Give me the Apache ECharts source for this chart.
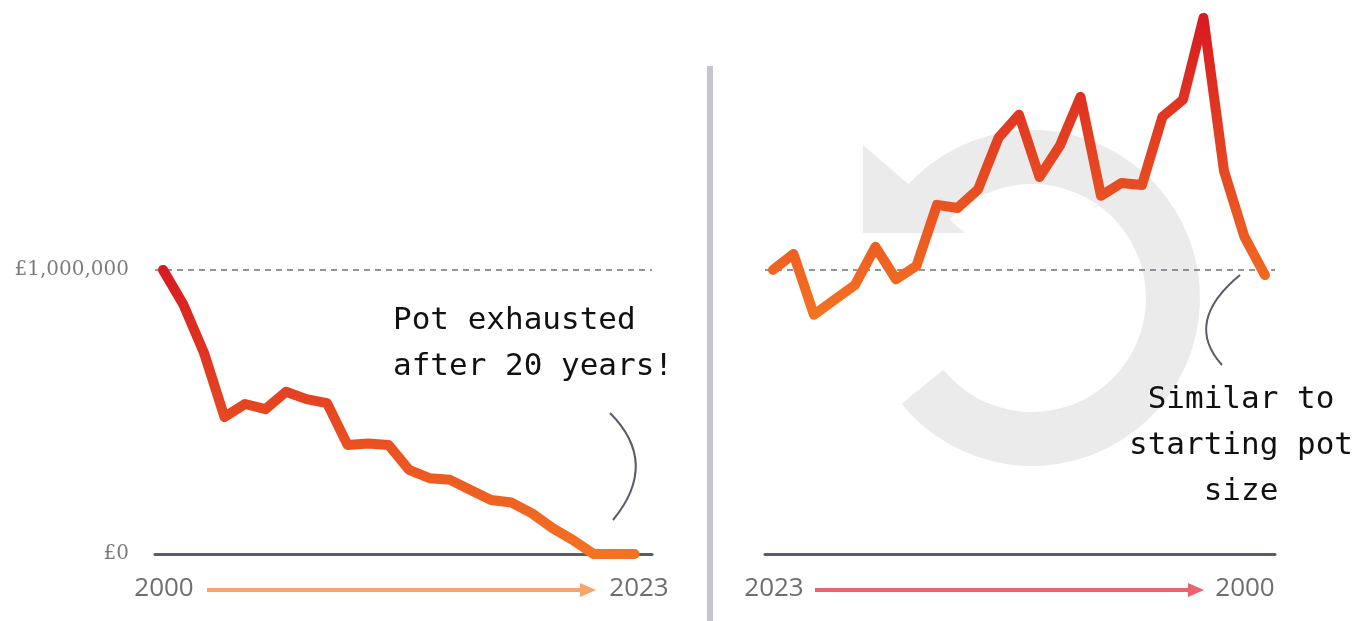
<!DOCTYPE html>
<html>
<head>
<meta charset="utf-8">
<script src="https://cdn.jsdelivr.net/npm/echarts@6/dist/echarts.min.js"></script>
<style>
html,body{margin:0;padding:0;background:#fff;}
#chart{width:1359px;height:621px;}
</style>
</head>
<body>
<div id="chart"></div>
<script>
// ---- data ----
const leftValues = [1000000, 877000, 708000, 482000, 528000, 510000, 571000, 545000, 531000,
  384000, 389000, 384000, 296000, 267000, 261000, 225000, 190000, 181000, 143000, 91000,
  49000, 0, 0, 0];
const rightValues = [1000000, 1056000, 842000, 895000, 947000, 1081000, 967000, 1014000,
  1229000, 1218000, 1283000, 1465000, 1546000, 1327000, 1438000, 1609000, 1261000,
  1306000, 1299000, 1539000, 1599000, 1887000, 1349000, 1116000, 982000];
const yTicks = [0, 1000000];
const yTickLabels = ['£0', '£1,000,000'];
const refLevel = 1000000;
const leftYearLabels = ['2000', '2023'];
const rightYearLabels = ['2023', '2000'];
const leftNote = ['Pot exhausted', 'after 20 years!'];
const rightNote = ['Similar to', 'starting pot', 'size'];

// ---- chart ----
const chart = echarts.init(document.getElementById('chart'), null, {renderer: 'canvas'});
const lineGrad = () => ({
  type: 'linear', x: 0, y: 0, x2: 0, y2: 1,
  colorStops: [{offset: 0, color: '#d71a21'}, {offset: 1, color: '#f47421'}]
});
const yAx = (gi, showLabels) => ({
  gridIndex: gi, type: 'value', min: 0, max: 1950000, interval: 1000000,
  axisLine: {show: false}, axisTick: {show: false},
  splitLine: {show: false},
  axisLabel: {
    show: showLabels, margin: 26, fontFamily: 'DejaVu Serif', fontSize: 20, color: '#7d7d7d',
    formatter: v => { const k = yTicks.indexOf(v); return k >= 0 ? yTickLabels[k] : ''; }
  }
});
const xAx = (gi, min, max) => ({
  gridIndex: gi, type: 'value', min: min, max: max,
  axisLine: {show: true, onZero: true, lineStyle: {color: '#5b5b6b', width: 3}},
  axisTick: {show: false}, axisLabel: {show: false}, splitLine: {show: false}
});
const lineSeries = (gi, vals) => ({
  type: 'line', xAxisIndex: gi, yAxisIndex: gi, z: 5, clip: false,
  data: vals.map((v, i) => [i, v]), symbol: 'none', silent: true,
  lineStyle: {width: 10, cap: 'round', join: 'round', color: lineGrad()},
  markLine: {
    silent: true, symbol: ['none', 'none'], z: 1, label: {show: false},
    lineStyle: {type: [6, 5], color: '#70707e', width: 1.5},
    data: [{yAxis: refLevel}]
  }
});

const yearFont = {fontFamily: 'Open Sans', fontSize: 26, fill: '#6e6e6e', align: 'center', verticalAlign: 'middle'};
const noteFont = {fontFamily: 'DejaVu Sans Mono', fontSize: 31, fill: '#111', verticalAlign: 'middle', lineHeight: 46};
const deg = d => d * Math.PI / 180;

const graphics = [
  // background loop arrow (decoration)
  {type: 'sector', z: -10, silent: true,
   shape: {cx: 1032, cy: 298, r0: 114, r: 168, startAngle: deg(221), endAngle: deg(501), clockwise: true},
   style: {fill: '#ebebeb'}},
  {type: 'polygon', z: -10, silent: true,
   shape: {points: [[863, 145], [863, 233], [965, 233]]}, style: {fill: '#ebebeb'}},
  // divider
  {type: 'rect', z: 50, shape: {x: 707, y: 66, width: 6, height: 560}, style: {fill: '#c5c5d1'}},
  // bottom direction arrows
  {type: 'line', z: 50, shape: {x1: 207, y1: 590, x2: 584, y2: 590}, style: {stroke: '#f7a56d', lineWidth: 4}},
  {type: 'polygon', z: 50, shape: {points: [[580, 583], [596, 590], [580, 597]]}, style: {fill: '#f7a56d'}},
  {type: 'line', z: 50, shape: {x1: 815, y1: 590, x2: 1192, y2: 590}, style: {stroke: '#ec636b', lineWidth: 4}},
  {type: 'polygon', z: 50, shape: {points: [[1188, 583], [1204, 590], [1188, 597]]}, style: {fill: '#ec636b'}},
  {type: 'text', z: 50, x: 164, y: 589, style: Object.assign({text: leftYearLabels[0]}, yearFont)},
  {type: 'text', z: 50, x: 639, y: 589, style: Object.assign({text: leftYearLabels[1]}, yearFont)},
  {type: 'text', z: 50, x: 774, y: 589, style: Object.assign({text: rightYearLabels[0]}, yearFont)},
  {type: 'text', z: 50, x: 1245, y: 589, style: Object.assign({text: rightYearLabels[1]}, yearFont)},
  // annotation connectors
  {type: 'bezierCurve', z: 50, shape: {x1: 610, y1: 413, cpx1: 660, cpy1: 463, x2: 613, y2: 520},
   style: {stroke: '#5a5a6a', lineWidth: 2, fill: null}},
  {type: 'bezierCurve', z: 50, shape: {x1: 1240, y1: 275, cpx1: 1183, cpy1: 322, x2: 1222, y2: 365},
   style: {stroke: '#5a5a6a', lineWidth: 2, fill: null}},
  // annotations
  {type: 'text', z: 50, x: 393, y: 344, style: Object.assign({text: leftNote.join('\n'), align: 'left'}, noteFont)},
  {type: 'text', z: 50, x: 1241, y: 446, style: Object.assign({text: rightNote.join('\n'), align: 'center'}, noteFont)}
];

chart.setOption({
  animation: false,
  backgroundColor: '#ffffff',
  grid: [
    {left: 155, right: 1359 - 652, top: 0, bottom: 67},
    {left: 765, right: 1359 - 1275, top: 0, bottom: 67}
  ],
  xAxis: [xAx(0, -0.39, 23.85), xAx(1, -0.39, 24.49)],
  yAxis: [yAx(0, true), yAx(1, false)],
  series: [lineSeries(0, leftValues), lineSeries(1, rightValues)],
  graphic: graphics
});
</script>
</body>
</html>
